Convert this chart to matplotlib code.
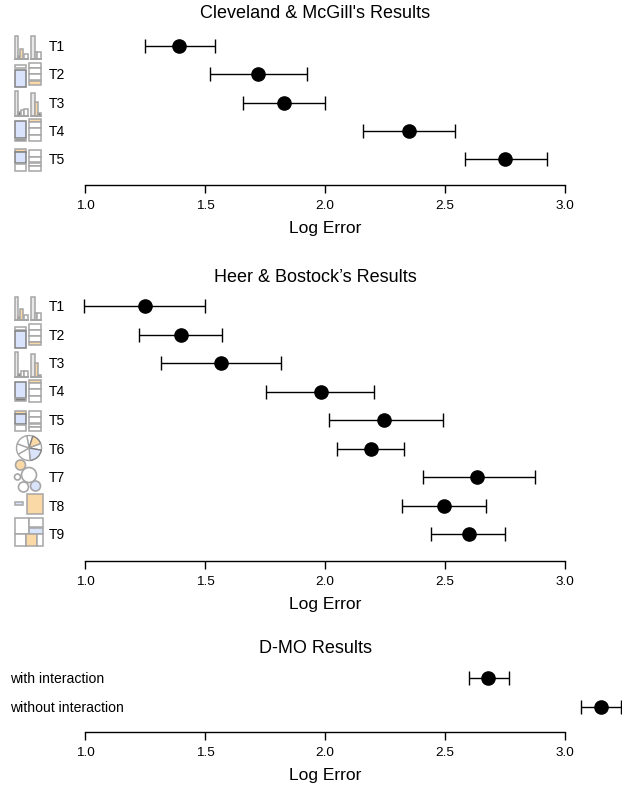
import matplotlib
matplotlib.use('Agg')
import matplotlib.pyplot as plt
from matplotlib.patches import Rectangle, Circle, Wedge

plt.rcParams['font.family'] = ['Liberation Sans', 'DejaVu Sans']

W, H = 622, 787
GRAY = '#a6a6a6'
DARK = '#808080'
BLUE = '#d9e3fb'
ORANGE = '#fbd9a6'

cm_labels = ['T1', 'T2', 'T3', 'T4', 'T5']
cm_mean = [1.39, 1.72, 1.83, 2.35, 2.75]
cm_low = [1.25, 1.52, 1.66, 2.16, 2.585]
cm_high = [1.54, 1.925, 2.0, 2.54, 2.925]

hb_labels = ['T1', 'T2', 'T3', 'T4', 'T5', 'T6', 'T7', 'T8', 'T9']
hb_mean = [1.25, 1.40, 1.565, 1.985, 2.245, 2.19, 2.635, 2.495, 2.60]
hb_low = [0.995, 1.225, 1.315, 1.755, 2.015, 2.05, 2.41, 2.32, 2.44]
hb_high = [1.5, 1.57, 1.815, 2.205, 2.49, 2.33, 2.875, 2.67, 2.75]

dmo_labels = ['with interaction', 'without interaction']
dmo_mean = [2.68, 3.15]
dmo_low = [2.6, 3.065]
dmo_high = [2.765, 3.235]

ticks = [1.0, 1.5, 2.0, 2.5, 3.0]

fig = plt.figure(figsize=(W / 100, H / 100), dpi=100)


def panel(title, labels, mean, low, high, y_first, y_step, y_axis, title_y, label_x, label_size):
    # axes spans tick range in x, and row 0 to the axis line in y
    ax = fig.add_axes([85 / W, 1 - y_axis / H, 480 / W, (y_axis - y_first) / H])
    rows = list(range(len(labels)))
    ax.set_xlim(1, 3)
    ax.set_ylim((y_axis - y_first) / y_step, 0)
    ax.errorbar(mean, rows, xerr=[[m - l for m, l in zip(mean, low)], [h - m for m, h in zip(mean, high)]],
                fmt='o', color='black', ms=9.5, elinewidth=1.0, capsize=5, capthick=1.0, clip_on=False)
    for s in ['top', 'left', 'right']:
        ax.spines[s].set_visible(False)
    ax.spines['bottom'].set_linewidth(1.0)
    ax.set_yticks([])
    ax.set_xticks(ticks)
    ax.set_xticklabels(['%.1f' % t for t in ticks], fontsize=9.7)
    ax.tick_params(axis='x', length=6, width=1.0, pad=5)
    ax.set_xlabel('Log Error', fontsize=12.5, labelpad=6)
    fig.text(315 / W, 1 - title_y / H, title, ha='center', va='center', fontsize=13)
    for r, lab in zip(rows, labels):
        fig.text(label_x / W, 1 - (y_first + 1 + r * y_step) / H, lab, ha='left', va='center', fontsize=label_size)


panel("Cleveland & McGill's Results", cm_labels, cm_mean, cm_low, cm_high, 46, 28.25, 185, 13, 49, 10)
panel("Heer & Bostock\u2019s Results", hb_labels, hb_mean, hb_low, hb_high, 306, 28.5, 561, 277, 49, 10)
panel('D-MO Results', dmo_labels, dmo_mean, dmo_low, dmo_high, 678, 28.5, 732, 648.5, 10, 10.1)

# pixel space layer for the small stimulus icons
ic = fig.add_axes([0, 0, 1, 1])
ic.set_xlim(0, W)
ic.set_ylim(H, 0)
ic.axis('off')


def box(x0, y0, x1, y1, fc='white', ec=GRAY, lw=1.1):
    ic.add_patch(Rectangle((x0, y0), x1 - x0, y1 - y0, fc=fc, ec=ec, lw=lw))


def bars(yb, left, right):
    # left and right groups of (x0, x1, top, colour)
    for x0, x1, top, fc in left + right:
        box(x0, yb - top, x1, yb, fc=fc)
    ic.plot([14.5, 28], [yb, yb], color=GRAY, lw=1.4)
    ic.plot([31, 41], [yb, yb], color=GRAY, lw=1.4)


def stacks(y0, left, right):
    for a, b, fc, ec in left:
        box(14.5, y0 + a, 26, y0 + b, fc=fc, ec=ec)
    for a, b, fc, ec in right:
        box(28.5, y0 + a, 40.5, y0 + b, fc=fc, ec=ec)


W_ = 'white'
bars(59, [(14.5, 17.5, 23, '#e8e8e8'), (17.5, 20, 3.5, DARK), (20, 23, 10, ORANGE), (24, 28, 5.5, W_)],
     [(31, 34.5, 23, '#e8e8e8'), (34.5, 37, 7, W_), (37, 40.5, 7, W_)])
stacks(65, [(0, 2.5, W_, GRAY), (5, 22, BLUE, DARK)],
        [(-2, 3, W_, GRAY), (3, 9, W_, GRAY), (9, 15, W_, GRAY), (16, 20, ORANGE, GRAY)])
bars(115.5, [(14.5, 17.5, 25, '#e8e8e8'), (18, 21, 3.5, DARK), (21, 24, 6, W_), (24, 28, 6.5, W_)],
     [(31, 34.5, 23, '#e8e8e8'), (34.5, 37.5, 14, ORANGE), (37.5, 40.5, 2.5, DARK)])
stacks(122, [(-1, 16, BLUE, DARK), (17, 19, DARK, GRAY)],
        [(-3, 0, ORANGE, GRAY), (0, 6, W_, GRAY), (6, 13, W_, GRAY), (13, 19, W_, GRAY)])
stacks(150, [(-1, 2, ORANGE, GRAY), (2, 13, BLUE, DARK), (14, 21, W_, GRAY)],
        [(0, 7, W_, GRAY), (7, 12, W_, GRAY), (13, 16, W_, GRAY), (16, 21, W_, GRAY)])

bars(320, [(14.5, 17.5, 23, '#e8e8e8'), (17.5, 20, 3.5, DARK), (20, 23, 11, ORANGE), (24, 28, 5.5, W_)],
     [(31, 34.5, 23, '#e8e8e8'), (34.5, 37, 7, W_), (37, 40.5, 7, W_)])
stacks(327, [(0, 2.5, W_, GRAY), (4, 21, BLUE, DARK)],
        [(-3, 3, W_, GRAY), (3, 9, W_, GRAY), (9, 15, W_, GRAY), (15, 18, ORANGE, GRAY)])
bars(377, [(14.5, 17.5, 25, '#e8e8e8'), (18, 21, 3.5, DARK), (21, 24, 6, W_), (24, 28, 6.5, W_)],
     [(31, 34.5, 23, '#e8e8e8'), (34.5, 37.5, 14, ORANGE), (37.5, 40.5, 2.5, DARK)])
stacks(383, [(-1, 15, BLUE, DARK), (15, 18, DARK, GRAY)],
        [(-3, 0, ORANGE, GRAY), (0, 6, W_, GRAY), (6, 13, W_, GRAY), (13, 19, W_, GRAY)])
stacks(411, [(0, 2.5, ORANGE, GRAY), (2.5, 13, BLUE, DARK), (14, 20, W_, GRAY)],
        [(0, 6, W_, GRAY), (6, 12, W_, GRAY), (13, 16, W_, GRAY), (16, 20, W_, GRAY)])

# pie, y axis is inverted here so wedges run clockwise from the right
for a, b, fc, ec in [(-100, -72, W_, GRAY), (-72, -20, ORANGE, DARK), (-20, 10, W_, GRAY), (10, 85, BLUE, DARK),
                     (85, 150, W_, GRAY), (150, 200, W_, GRAY), (200, 260, W_, GRAY)]:
    ic.add_patch(Wedge((29, 448), 12.5, a, b, fc=fc, ec=ec, lw=1))

# bubbles
for x, y, r, fc in [(20.5, 465, 5, ORANGE), (29, 475, 7.5, W_), (17.5, 477, 3, W_),
                    (23.5, 487, 5, W_), (35.5, 486, 5, BLUE)]:
    ic.add_patch(Circle((x, y), r, fc=fc, ec=GRAY, lw=1.2))

# two squares
box(14.5, 501.5, 23, 505, fc=BLUE)
box(27, 494, 43, 514, fc=ORANGE)

# treemap
box(14.5, 518, 28.5, 533.5)
box(28.5, 518, 43, 527)
box(28.5, 527.5, 43, 533.5, fc=BLUE)
box(14.5, 533.5, 26, 546)
box(26, 533.5, 37, 546, fc=ORANGE)
box(37, 533.5, 43, 546)

fig.savefig('out.png', dpi=100)
